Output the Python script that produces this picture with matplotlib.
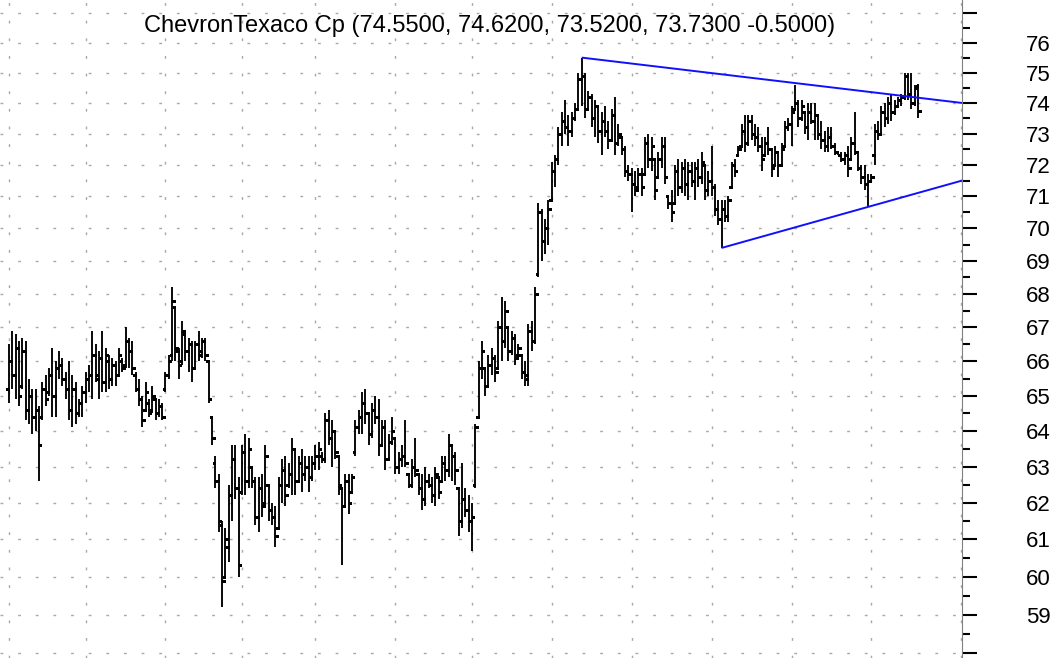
#!/usr/bin/env python3
"""Daily OHLC bar chart, ChevronTexaco, log price scale with triangle trendlines."""

import numpy as np
import matplotlib
matplotlib.use("Agg")
import matplotlib.pyplot as plt
from matplotlib.ticker import FixedLocator, FixedFormatter, NullFormatter

W_PX, H_PX, DPI = 1061, 658, 100
PLOT_RIGHT_PX = 962

TITLE = "ChevronTexaco Cp (74.5500, 74.6200, 73.5200, 73.7300 -0.5000)"

# daily bars, oldest first
opens = [
    65.2, 66.0, 65.6, 66.4, 65.3, 66.3, 64.6, 65.0, 64.4, 64.6, 64.4, 65.2, 65.1, 65.6,
    65.0, 65.8, 65.9, 65.5, 65.2, 64.6, 65.2, 64.5, 64.8, 65.1, 65.5, 65.6, 66.2,
    65.5, 66.1, 65.4, 66.0, 65.5, 65.9, 65.6, 66.0, 65.9, 66.6, 66.3, 65.6, 65.2, 64.9,
    64.6, 64.8, 64.6, 64.9, 64.5, 64.7, 65.2,
    65.6, 66.2, 67.6, 66.3, 66.0, 66.8, 66.3, 66.5, 65.8, 66.5, 66.3, 66.6, 66.0, 64.4,
    63.1, 62.6, 61.4, 60.0, 60.8, 62.2, 63.2, 62.4, 62.3, 63.4, 62.6, 63.0, 62.6, 61.6,
    62.4, 62.0, 62.5, 61.8, 61.6, 61.3, 62.5, 62.9, 62.5, 62.8, 63.5, 62.6, 63.1, 62.8,
    63.0, 62.7, 63.1, 63.3, 63.3, 63.2, 64.3, 63.8, 64.0, 63.3, 62.4, 61.9, 62.6, 62.3,
    63.4, 64.1, 64.4, 64.8, 64.5, 63.9, 64.6, 64.4, 63.6, 64.1, 63.2, 63.7, 63.8, 63.0,
    63.2, 63.3, 62.8, 62.5, 63.0, 62.8, 62.4, 62.1, 62.6, 62.5, 62.2, 62.7, 62.6, 63.1,
    62.9, 63.6, 63.3, 62.4, 61.5, 62.1, 61.8, 61.5, 62.5,
    64.4, 65.8, 65.8, 65.3, 65.9, 66.1, 65.8, 67.0, 66.6, 67.0, 66.3, 66.7, 66.2, 66.2,
    65.7, 65.5, 66.9, 66.6, 68.6, 70.5, 69.6, 70.0,
    70.9, 71.8, 72.2, 73.0, 73.4, 73.2, 73.1, 73.5, 73.8, 74.8, 74.9, 73.8, 74.2, 73.5,
    73.9, 73.1, 73.4, 73.1, 72.8, 73.6, 72.7, 72.9, 72.5, 71.8, 71.7, 71.4, 71.3, 71.7,
    71.7, 72.7, 72.2, 72.2, 71.6, 72.2, 72.6, 71.0, 70.8, 70.8, 71.8, 71.3, 71.9, 71.4,
    71.8, 71.5, 71.9,
    71.6, 72.0, 71.2, 71.5, 71.3, 70.6, 70.3, 70.6, 70.4, 71.3, 72.0, 72.3, 72.6, 73.1,
    72.7, 73.4, 73.0, 72.9, 72.6, 72.3, 72.7, 72.5, 72.0, 72.4, 72.0, 72.6, 73.2, 73.3,
    73.8, 74.0, 73.5, 73.7, 73.2, 73.7, 73.4, 73.6, 73.0, 72.8, 72.6, 72.9, 72.6, 72.4,
    72.3, 72.2, 72.3, 72.2, 72.7, 72.4, 71.9, 71.6, 71.4, 71.5, 72.3, 73.1, 73.0, 73.7,
    73.5, 74.0, 73.7, 73.9, 74.1, 74.2, 74.9, 74.3, 74.0, 74.55,
]
highs = [
    66.5, 66.9, 66.8, 66.6, 66.7, 66.6, 65.5, 65.2, 65.2, 64.7, 65.4, 65.6, 65.8, 66.4,
    66.0, 66.3, 66.1, 65.7, 66.0, 65.6, 65.4, 64.9, 65.3, 65.7, 65.9, 66.9, 66.5,
    66.3, 66.9, 66.4, 66.2, 66.1, 66.0, 66.4, 66.1, 67.0, 66.7, 66.6, 65.7, 65.5, 65.0,
    65.4, 64.9, 65.3, 64.9, 64.9, 64.8, 65.7,
    66.2, 68.2, 67.6, 66.4, 67.2, 66.9, 66.7, 66.6, 66.6, 66.9, 66.7, 66.7, 66.0, 64.4,
    63.3, 62.8, 61.5, 61.3, 62.5, 63.6, 63.6, 62.7, 63.6, 63.9, 63.8, 63.0, 62.7, 62.7,
    62.8, 63.6, 62.5, 62.0, 61.9, 62.7, 63.2, 63.3, 63.1, 63.8, 63.5, 63.3, 63.5, 63.3,
    63.3, 63.3, 63.6, 63.7, 63.4, 64.5, 64.6, 64.3, 64.0, 63.3, 62.4, 62.8, 62.8, 62.8,
    64.3, 64.6, 65.1, 65.2, 64.5, 64.8, 65.0, 64.9, 64.3, 64.3, 63.9, 64.4, 63.8, 63.4,
    63.6, 64.3, 62.8, 63.2, 63.8, 62.8, 62.8, 63.0, 62.8, 62.7, 63.0, 62.7, 63.3, 63.3,
    63.9, 63.6, 63.4, 62.4, 63.1, 62.4, 62.2, 62.0, 64.2,
    66.0, 66.6, 65.8, 66.2, 66.4, 66.2, 67.2, 67.9, 67.8, 67.0, 66.9, 66.8, 66.5, 66.2,
    66.0, 67.1, 67.2, 68.2, 70.8, 70.6, 70.3, 70.9,
    72.1, 72.3, 73.2, 73.7, 74.1, 73.6, 73.7, 74.0, 75.0, 75.5, 75.0, 74.4, 74.3, 74.1,
    73.9, 73.7, 73.9, 73.4, 73.8, 74.2, 73.3, 72.9, 72.6, 72.0, 71.9, 71.8, 71.9, 71.9,
    72.9, 73.0, 72.9, 72.2, 72.4, 72.9, 72.9, 71.0, 71.2, 72.0, 72.2, 72.1, 72.2, 72.1,
    72.1, 72.1, 72.2,
    72.4, 72.0, 71.8, 72.6, 71.4, 70.9, 70.9, 70.9, 71.0, 72.1, 72.2, 72.6, 73.3, 73.6,
    73.6, 73.6, 73.3, 73.2, 72.9, 72.9, 73.2, 72.5, 72.6, 72.4, 72.7, 73.4, 73.5, 73.9,
    74.6, 74.1, 74.1, 73.7, 74.0, 74.0, 74.0, 73.6, 73.4, 73.1, 73.2, 73.2, 72.7, 72.4,
    72.4, 72.4, 72.6, 72.9, 73.7, 72.4, 72.0, 72.0, 71.7, 71.7, 73.3, 73.4, 73.9, 74.0,
    74.2, 74.3, 74.1, 74.2, 74.3, 75.0, 75.0, 75.0, 74.6, 74.62,
]
lows = [
    64.8, 65.2, 64.9, 64.7, 65.2, 64.3, 64.2, 63.9, 64.0, 62.6, 64.3, 64.7, 65.0, 64.4,
    64.4, 65.5, 65.3, 64.9, 64.3, 64.1, 64.2, 64.4, 64.4, 64.8, 65.1, 64.9, 65.4,
    64.9, 65.1, 65.1, 65.2, 65.3, 65.3, 65.6, 65.7, 65.8, 65.8, 65.6, 65.1, 64.7, 64.1,
    64.6, 64.4, 64.5, 64.3, 64.4, 64.3, 65.1,
    65.5, 66.0, 66.0, 65.5, 65.9, 66.0, 65.7, 65.4, 65.8, 66.0, 66.1, 66.0, 64.8, 63.6,
    62.4, 61.2, 59.2, 60.0, 60.4, 61.5, 62.1, 60.0, 62.2, 62.2, 62.4, 62.4, 61.4, 61.2,
    61.6, 62.0, 61.5, 61.4, 60.8, 61.3, 62.0, 61.9, 62.4, 62.2, 62.2, 62.6, 62.3, 62.6,
    62.3, 62.6, 62.9, 62.9, 63.1, 63.1, 63.6, 63.0, 63.2, 62.2, 60.3, 61.9, 61.7, 62.3,
    63.3, 63.9, 63.9, 64.2, 63.6, 63.8, 64.2, 63.3, 63.6, 62.9, 63.2, 63.6, 62.8, 62.8,
    63.0, 63.0, 62.4, 62.4, 62.7, 62.2, 61.8, 61.9, 62.4, 62.0, 61.9, 62.1, 62.6, 62.6,
    62.7, 62.6, 62.5, 61.1, 61.3, 61.6, 61.2, 60.7, 62.4,
    64.4, 65.5, 65.0, 65.3, 65.6, 65.4, 65.8, 66.0, 66.4, 66.0, 66.2, 65.9, 66.2, 65.5,
    65.3, 65.3, 66.3, 66.5, 68.5, 69.0, 69.2, 69.5,
    70.9, 71.3, 72.0, 72.6, 73.0, 72.6, 72.9, 73.4, 73.8, 73.9, 73.5, 73.8, 73.2, 72.9,
    72.7, 72.3, 72.9, 72.5, 72.8, 72.3, 72.6, 72.3, 71.6, 71.5, 70.5, 71.0, 71.3, 71.0,
    71.7, 71.9, 71.8, 70.9, 71.6, 71.9, 71.4, 70.6, 70.2, 70.8, 71.0, 71.1, 71.0, 70.9,
    71.3, 70.9, 71.3,
    71.4, 70.9, 71.0, 71.0, 70.4, 70.1, 69.4, 70.2, 70.2, 71.3, 71.6, 72.3, 72.6, 72.4,
    72.6, 72.8, 72.6, 72.4, 71.8, 72.3, 72.3, 71.6, 72.0, 71.6, 72.0, 72.6, 73.1, 72.6,
    73.8, 73.2, 73.4, 73.0, 72.8, 73.3, 72.8, 72.8, 72.5, 72.4, 72.4, 72.5, 72.3, 72.3,
    72.1, 72.0, 71.6, 72.2, 72.3, 71.8, 71.4, 71.2, 70.7, 71.5, 72.0, 72.8, 73.0, 73.2,
    73.3, 73.4, 73.6, 73.9, 73.9, 74.1, 74.1, 73.8, 73.9, 73.52,
]
closes = [
    66.0, 65.6, 66.4, 65.0, 66.3, 64.6, 65.0, 64.4, 64.6, 63.6, 65.2, 64.9, 65.6, 65.0,
    65.8, 65.9, 65.5, 65.2, 64.6, 65.2, 64.5, 64.8, 65.1, 65.5, 65.6, 66.2, 65.6,
    66.1, 65.4, 66.2, 65.5, 65.9, 65.6, 66.2, 65.8, 66.6, 66.3, 65.8, 65.2, 64.9, 64.3,
    65.1, 64.5, 65.0, 64.5, 64.7, 64.4, 65.6,
    66.0, 67.8, 66.4, 65.9, 66.9, 66.3, 66.5, 65.8, 66.5, 66.2, 66.6, 66.2, 64.9, 63.8,
    62.6, 61.5, 59.9, 61.0, 62.2, 63.2, 62.4, 60.3, 63.4, 62.6, 63.5, 62.6, 61.6, 62.4,
    61.9, 63.3, 61.8, 61.6, 61.1, 62.5, 62.9, 62.2, 62.8, 63.5, 62.6, 63.1, 62.8, 63.0,
    62.7, 63.1, 63.3, 63.5, 63.2, 64.3, 63.8, 64.0, 63.4, 62.5, 61.9, 62.6, 62.0, 62.7,
    64.1, 64.4, 64.8, 64.5, 63.9, 64.6, 64.4, 63.6, 64.1, 63.2, 63.7, 64.0, 63.0, 63.2,
    63.3, 63.1, 62.5, 63.0, 62.9, 62.4, 62.1, 62.6, 62.5, 62.2, 62.8, 62.3, 63.1, 62.9,
    63.6, 63.3, 62.9, 61.5, 62.1, 61.8, 61.5, 61.6, 64.1,
    65.8, 66.3, 65.3, 65.9, 66.1, 65.7, 67.0, 66.6, 67.5, 66.3, 66.7, 66.1, 66.4, 65.7,
    65.6, 66.9, 66.6, 68.0, 70.5, 69.6, 70.0, 70.6,
    71.8, 72.2, 73.0, 73.4, 73.2, 73.1, 73.5, 73.8, 74.8, 74.9, 73.8, 74.2, 73.5, 73.9,
    73.1, 73.4, 73.1, 72.8, 73.6, 72.7, 73.0, 72.5, 71.8, 71.7, 71.4, 71.2, 71.7, 71.3,
    72.7, 72.2, 72.6, 71.2, 72.2, 72.6, 71.6, 70.8, 70.5, 71.8, 71.3, 71.9, 71.4, 71.8,
    71.5, 71.9, 71.6,
    72.1, 71.2, 71.5, 71.3, 70.6, 70.3, 70.6, 70.4, 70.9, 72.0, 71.8, 72.5, 73.1, 72.7,
    73.4, 73.0, 72.9, 72.6, 72.2, 72.7, 72.5, 71.9, 72.4, 72.0, 72.5, 73.2, 73.3, 73.7,
    74.0, 73.5, 73.9, 73.2, 73.7, 73.4, 73.6, 73.0, 72.8, 72.6, 72.9, 72.6, 72.4, 72.3,
    72.2, 72.3, 71.9, 72.7, 72.4, 71.9, 71.6, 71.4, 71.5, 71.6, 73.1, 73.0, 73.7, 73.5,
    74.0, 73.7, 73.9, 74.1, 74.2, 74.9, 74.3, 74.0, 74.5, 73.73,
]

# first trading day of each month (bar index)
month_starts = [0, 23, 47, 70, 92, 116, 139, 163, 187, 211, 235, 259, 286]

# trendlines: (bar index, price) end points
upper_trend_x = [172, 286.2]
upper_trend_y = [75.5, 74.0]
lower_trend_x = [214, 286.2]
lower_trend_y = [69.4, 71.5]

price_ticks = list(range(58, 78))
price_labels = [str(p) if 59 <= p <= 76 else "" for p in price_ticks]
half_ticks = [p + 0.5 for p in range(58, 77)]


def draw_bars(ax, idx, o, h, l, c) -> None:
    tick = 0.75
    ax.vlines(idx, l, h, colors="black", lw=1.35, zorder=3)
    ax.hlines(o, idx - tick, idx, colors="black", lw=1.0, antialiased=False, zorder=3)
    ax.hlines(c, idx, idx + tick, colors="black", lw=1.0, antialiased=False, zorder=3)


def main() -> None:
    plt.rcParams.update({
        "font.family": ["Liberation Sans", "DejaVu Sans"],
    })

    fig = plt.figure(figsize=(W_PX / DPI, H_PX / DPI), dpi=DPI, facecolor="white")
    ax = fig.add_axes([0, 0, PLOT_RIGHT_PX / W_PX, 1])

    idx = np.arange(len(closes))
    draw_bars(ax, idx, np.array(opens), np.array(highs), np.array(lows), np.array(closes))

    ax.plot(upper_trend_x, upper_trend_y, color="#1010ff", lw=1.4, zorder=4,
            solid_capstyle="butt")
    ax.plot(lower_trend_x, lower_trend_y, color="#1010ff", lw=1.4, zorder=4,
            solid_capstyle="butt")

    ax.set_yscale("log")
    ax.set_ylim(57.88, 77.45)
    ax.set_xlim(-2.7, 286.2)

    ax.yaxis.set_major_locator(FixedLocator(price_ticks))
    ax.yaxis.set_major_formatter(FixedFormatter(price_labels))
    ax.yaxis.set_minor_locator(FixedLocator(half_ticks))
    ax.yaxis.set_minor_formatter(NullFormatter())
    ax.yaxis.tick_right()
    ax.tick_params(axis="y", which="major", length=10.8, width=1.5, color="black",
                   labelsize=16, pad=35)
    ax.tick_params(axis="y", which="minor", length=5.8, width=1.5, color="black")

    ax.set_xticks(month_starts)
    ax.tick_params(axis="x", which="both", length=0, labelbottom=False)

    for side in ("top", "bottom", "left"):
        ax.spines[side].set_visible(False)
    ax.spines["right"].set_color("#808080")
    ax.spines["right"].set_linewidth(0.8)

    ax.set_axisbelow(True)
    ax.grid(True, which="major", axis="both", color="#a8a8a8", lw=1.0,
            linestyle=(0, (2.0, 10.7)))

    ax.text(490 / PLOT_RIGHT_PX, 1 - 32 / H_PX, TITLE, transform=ax.transAxes,
            ha="center", va="baseline", fontsize=17, color="black", zorder=5)

    fig.savefig("out.png", dpi=DPI, facecolor="white")
    plt.close(fig)


if __name__ == "__main__":
    main()
